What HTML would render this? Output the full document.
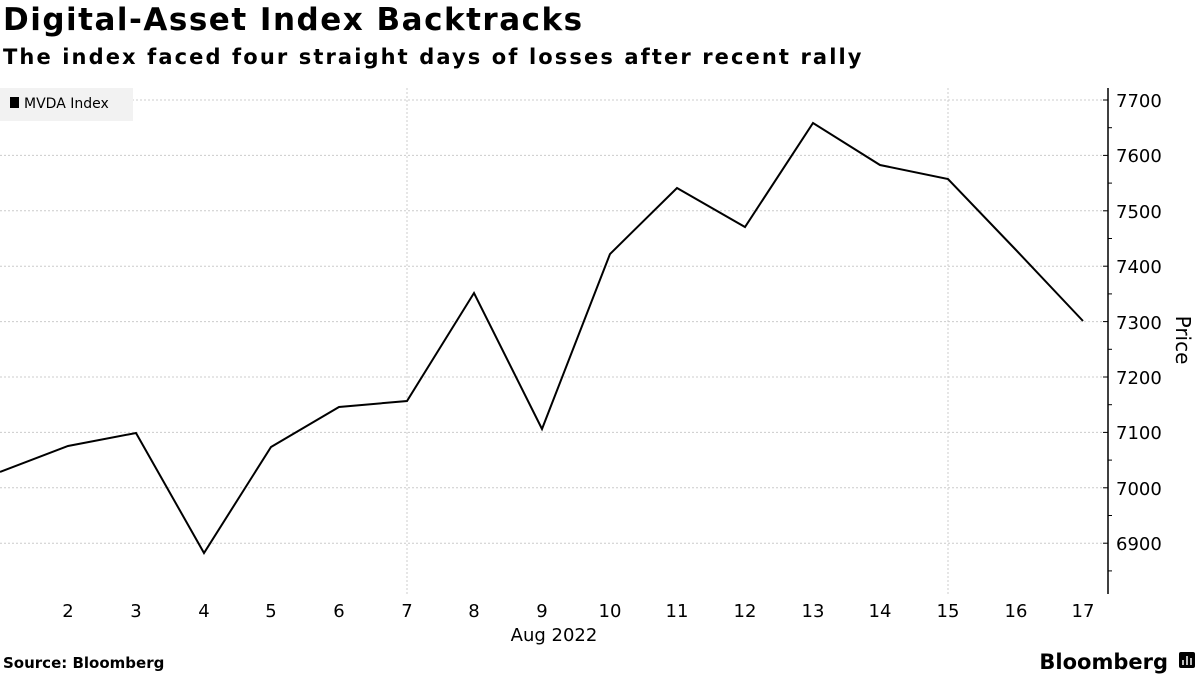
<!DOCTYPE html>
<html><head><style>
body{margin:0;width:1200px;height:675px;background:#fff;font-family:"DejaVu Sans","Liberation Sans",sans-serif;overflow:hidden;position:relative}
.t{position:absolute;left:3px;top:2px;font-size:31px;font-weight:bold;color:#000;letter-spacing:1.5px;white-space:nowrap}
.s{position:absolute;left:3px;top:45px;font-size:21px;font-weight:bold;color:#000;letter-spacing:2.1px;white-space:nowrap}
svg{position:absolute;left:0;top:0}
</style></head><body>
<div class="t">Digital-Asset Index Backtracks</div>
<div class="s">The index faced four straight days of losses after recent rally</div>
<svg width="1200" height="675" font-family="DejaVu Sans, Liberation Sans, sans-serif">
<g stroke="#ccc" stroke-dasharray="2,2" stroke-width="1">
<line x1="0" x2="1108" y1="100" y2="100"/><line x1="0" x2="1108" y1="155.4" y2="155.4"/>
<line x1="0" x2="1108" y1="210.8" y2="210.8"/><line x1="0" x2="1108" y1="266.2" y2="266.2"/>
<line x1="0" x2="1108" y1="321.6" y2="321.6"/><line x1="0" x2="1108" y1="377" y2="377"/>
<line x1="0" x2="1108" y1="432.4" y2="432.4"/><line x1="0" x2="1108" y1="487.8" y2="487.8"/>
<line x1="0" x2="1108" y1="543.2" y2="543.2"/>
<line x1="407" x2="407" y1="88" y2="594"/>
<line x1="948" x2="948" y1="88" y2="594"/>
</g>
<rect x="0" y="88" width="133" height="33" fill="#f2f2f2"/>
<rect x="10" y="97" width="9" height="11" fill="#000"/>
<text x="24" y="108" font-size="14" fill="#000">MVDA Index</text>
<line x1="1108" x2="1108" y1="88" y2="594" stroke="#000" stroke-width="1.5"/>
<g stroke="#000" stroke-width="1">
<line x1="1103" x2="1108" y1="100" y2="100"/><line x1="1103" x2="1108" y1="155.4" y2="155.4"/>
<line x1="1103" x2="1108" y1="210.8" y2="210.8"/><line x1="1103" x2="1108" y1="266.2" y2="266.2"/>
<line x1="1103" x2="1108" y1="321.6" y2="321.6"/><line x1="1103" x2="1108" y1="377" y2="377"/>
<line x1="1103" x2="1108" y1="432.4" y2="432.4"/><line x1="1103" x2="1108" y1="487.8" y2="487.8"/>
<line x1="1103" x2="1108" y1="543.2" y2="543.2"/>
<line x1="1108" x2="1112" y1="127.7" y2="127.7"/><line x1="1108" x2="1112" y1="183.1" y2="183.1"/>
<line x1="1108" x2="1112" y1="238.5" y2="238.5"/><line x1="1108" x2="1112" y1="293.9" y2="293.9"/>
<line x1="1108" x2="1112" y1="349.3" y2="349.3"/><line x1="1108" x2="1112" y1="404.7" y2="404.7"/>
<line x1="1108" x2="1112" y1="460.1" y2="460.1"/><line x1="1108" x2="1112" y1="515.5" y2="515.5"/>
<line x1="1108" x2="1112" y1="570.9" y2="570.9"/>
</g>
<g font-size="18" fill="#000">
<text x="1116" y="107">7700</text><text x="1116" y="162">7600</text><text x="1116" y="218">7500</text>
<text x="1116" y="273">7400</text><text x="1116" y="329">7300</text><text x="1116" y="384">7200</text>
<text x="1116" y="439">7100</text><text x="1116" y="495">7000</text><text x="1116" y="550">6900</text>
</g>
<text transform="translate(1176,340) rotate(90)" font-size="20" text-anchor="middle" fill="#000">Price</text>
<g font-size="18" fill="#000" text-anchor="middle">
<text x="68" y="617">2</text><text x="136" y="617">3</text><text x="204" y="617">4</text><text x="271" y="617">5</text>
<text x="339" y="617">6</text><text x="407" y="617">7</text><text x="474" y="617">8</text><text x="542" y="617">9</text>
<text x="610" y="617">10</text><text x="677" y="617">11</text><text x="745" y="617">12</text><text x="813" y="617">13</text>
<text x="880" y="617">14</text><text x="948" y="617">15</text><text x="1016" y="617">16</text><text x="1083" y="617">17</text>
<text x="554" y="641">Aug 2022</text>
</g>
<polyline fill="none" stroke="#000" stroke-width="2" stroke-linejoin="miter" points="0,472 68,446 136,433 204,553 271,447 339,407 407,401 474,293 542,429 610,254 677,188 745,227 813,123 880,165 948,179 1016,250 1083,321"/>
<text x="3" y="668" font-size="15" font-weight="bold" fill="#000">Source: Bloomberg</text>
<text x="1168" y="669" font-size="21" font-weight="bold" text-anchor="end" fill="#000">Bloomberg</text>
<rect x="1179" y="652" width="16" height="16" rx="2" fill="#000"/>
<g stroke="#fff" stroke-width="1.5"><line x1="1183" x2="1183" y1="660" y2="665"/><line x1="1187" x2="1187" y1="656" y2="665"/><line x1="1191" x2="1191" y1="658" y2="665"/></g>
</svg>
</body></html>
